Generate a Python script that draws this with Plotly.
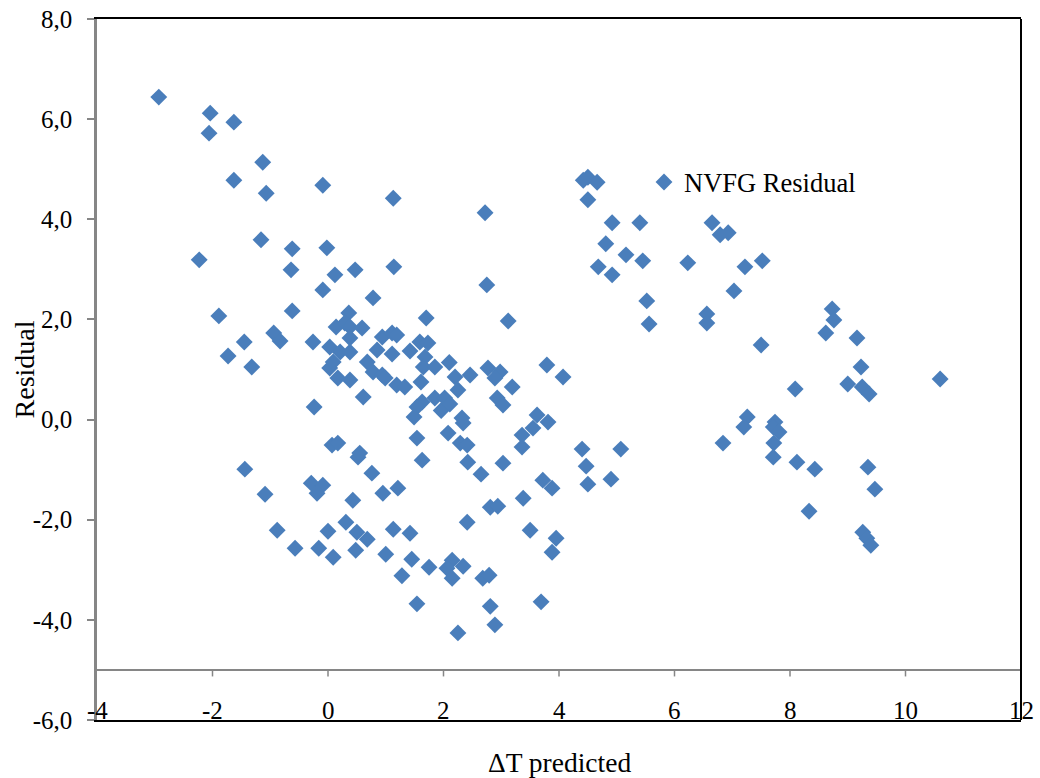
import plotly.graph_objects as go

# Predicted temperature change and the corresponding NVFG residuals
dt_predicted = [
    -2.93, -2.04, -2.06, -1.63, -1.13, -1.63, -1.07, -0.09, 1.13, -2.23,
    -1.16, -0.62, -0.02, -0.64, 0.47, 0.12, 1.14, -0.09, -1.89, -0.62,
    0.78, 0.36, -0.94, -0.83, -1.45, -1.73, -1.32, -0.26, -0.24, -1.44,
    -1.09,
    1.70, 0.14, 0.29, 0.38, 0.59, 0.38, 0.03, 0.21, 0.38, 0.94,
    1.11, 1.19, 0.85, 1.11, 1.42, 1.59, 1.73, 1.68, 1.65, 1.85,
    2.10, 0.03, 0.09, 0.17, 0.38, 0.68, 0.78, 0.94, 0.99, 1.19,
    1.33, 1.61, 0.61, 1.63, 1.54, 1.49, 1.85, 2.02, 1.96, 2.11,
    1.54, 1.63, 2.08, 0.07, 0.17, 0.52, 0.55, 0.76, -0.29, -0.09,
    -0.19, 0.43, 0.95, 1.21, 0.31, -0.88, 0.00, 0.50, 0.68, 1.13,
    1.42, -0.57, -0.16, 0.09, 0.48, 1.00, 1.45, 1.75, 1.28, 1.54,
    2.93, 3.03, 2.34, 2.29, 2.41, 2.42, 2.65, 3.03, 3.62, 3.81,
    3.55, 3.36, 3.36, 4.40, 5.07, 4.47, 4.50, 4.90, 3.72, 3.88,
    3.38, 2.81, 2.94, 2.41, 2.15, 2.06, 2.34, 2.15, 2.68, 2.79,
    3.50, 3.95, 3.88, 2.81, 2.89, 2.25, 3.69,
    2.72, 2.75, 3.12, 4.50, 4.66, 4.42, 4.50, 4.92, 4.81, 4.68,
    4.92, 5.16, 2.20, 2.25, 2.46, 2.77, 2.98, 2.89, 3.19, 3.79,
    4.07, 2.32,
    5.40, 6.65, 6.79, 6.93, 5.45, 6.23, 7.22, 7.52, 7.03, 5.52,
    5.56, 6.56, 6.56, 7.50, 8.09, 6.84, 7.26, 7.20, 7.74, 7.71,
    7.81, 7.72, 7.71, 8.12,
    8.73, 8.76, 8.62, 9.16, 9.23, 10.60, 9.00, 9.25, 9.37, 8.43,
    9.35, 9.47, 8.33, 9.26, 9.33, 9.40,
]
residual = [
    6.44, 6.12, 5.72, 5.94, 5.14, 4.78, 4.52, 4.68, 4.42, 3.19,
    3.59, 3.41, 3.43, 2.99, 2.99, 2.89, 3.05, 2.59, 2.07, 2.17,
    2.43, 2.13, 1.73, 1.57, 1.55, 1.27, 1.05, 1.55, 0.25, -0.99,
    -1.49,
    2.03, 1.85, 1.93, 1.85, 1.83, 1.63, 1.45, 1.35, 1.35, 1.65,
    1.73, 1.69, 1.39, 1.31, 1.37, 1.55, 1.53, 1.25, 1.05, 1.05,
    1.14, 1.03, 1.15, 0.83, 0.79, 1.15, 0.95, 0.89, 0.83, 0.69,
    0.65, 0.75, 0.45, 0.35, 0.25, 0.05, 0.43, 0.43, 0.18, 0.31,
    -0.37, -0.81, -0.27, -0.51, -0.47, -0.75, -0.67, -1.07, -1.27, -1.31,
    -1.47, -1.61, -1.47, -1.37, -2.05, -2.21, -2.23, -2.25, -2.39, -2.19,
    -2.27, -2.57, -2.57, -2.75, -2.61, -2.69, -2.79, -2.95, -3.12, -3.68,
    0.43, 0.29, -0.07, -0.47, -0.51, -0.85, -1.09, -0.87, 0.09, -0.05,
    -0.17, -0.31, -0.55, -0.59, -0.59, -0.93, -1.29, -1.19, -1.21, -1.37,
    -1.57, -1.75, -1.73, -2.05, -2.81, -2.97, -2.93, -3.17, -3.17, -3.11,
    -2.21, -2.37, -2.65, -3.73, -4.10, -4.26, -3.64,
    4.13, 2.69, 1.97, 4.84, 4.74, 4.78, 4.39, 3.93, 3.51, 3.05,
    2.89, 3.29, 0.85, 0.59, 0.89, 1.03, 0.95, 0.83, 0.65, 1.09,
    0.85, 0.03,
    3.93, 3.93, 3.69, 3.73, 3.17, 3.13, 3.05, 3.17, 2.57, 2.37,
    1.91, 2.11, 1.93, 1.49, 0.61, -0.47, 0.05, -0.15, -0.05, -0.15,
    -0.25, -0.47, -0.75, -0.85,
    2.21, 1.99, 1.73, 1.63, 1.05, 0.81, 0.71, 0.65, 0.51, -0.99,
    -0.95, -1.39, -1.83, -2.25, -2.37, -2.51,
]

x_ticks = [-4, -2, 0, 2, 4, 6, 8, 10, 12]
y_ticks = [-6, -4, -2, 0, 2, 4, 6, 8]
x_cross = -5  # level where the horizontal axis line crosses

SERIF = "Liberation Serif, Times New Roman, serif"
GREY = "#868686"

# tick texts with a plain hyphen and a decimal comma
y_ticktext = [f"{v:.1f}".replace(".", ",") for v in y_ticks]
x_ticktext = [str(v) for v in x_ticks]

fig = go.Figure()
fig.add_trace(go.Scatter(
    x=dt_predicted, y=residual, mode="markers", name="NVFG Residual",
    marker=dict(symbol="diamond", size=13, color="#4A7EBB", line=dict(width=0)),
))

# grey horizontal axis line at y = -5 with short downward ticks
fig.add_shape(type="line", xref="x", yref="y", x0=x_ticks[0], x1=x_ticks[-1],
              y0=x_cross, y1=x_cross, line=dict(color=GREY, width=2))
for t in x_ticks[1:]:
    fig.add_shape(type="line", xref="x", yref="y", x0=t, x1=t,
                  y0=x_cross, y1=x_cross - 0.13, line=dict(color=GREY, width=1.5))
# right border
fig.add_shape(type="line", xref="paper", yref="paper", x0=1, x1=1, y0=0, y1=1,
              line=dict(color="black", width=2))

# x tick labels sit on the bottom frame line
annotations = [
    dict(text=lab, xref="x", yref="y", x=t, y=y_ticks[0], xanchor="center",
         yanchor="bottom", yshift=-6, showarrow=False,
         font=dict(family=SERIF, size=25, color="black"))
    for t, lab in zip(x_ticks, x_ticktext)
]
annotations += [
    dict(text="ΔT predicted", xref="paper", yref="paper", x=0.5, y=-0.06,
         xanchor="center", yanchor="middle", showarrow=False,
         font=dict(family=SERIF, size=27.5)),
    dict(text="Residual", xref="paper", yref="paper", x=-0.078, y=0.5,
         xanchor="center", yanchor="middle", textangle=-90, showarrow=False,
         font=dict(family=SERIF, size=28)),
]

fig.update_layout(
    width=1040, height=778,
    margin=dict(l=97, r=19, t=19, b=58, autoexpand=False),
    paper_bgcolor="white", plot_bgcolor="white",
    font=dict(family=SERIF, size=25, color="black"),
    showlegend=True,
    legend=dict(x=0.592, y=0.767, xanchor="left", yanchor="middle",
                bgcolor="rgba(0,0,0,0)", font=dict(family=SERIF, size=26.5),
                itemsizing="trace"),
    xaxis=dict(range=[-4, 12], tickvals=x_ticks, showticklabels=False, ticks="",
               showgrid=False, zeroline=False, showline=True, linecolor="black",
               linewidth=2, mirror=True, automargin=False),
    yaxis=dict(range=[-6, 8], tickvals=y_ticks, ticktext=y_ticktext,
               ticks="outside", ticklen=7, tickwidth=1.5, tickcolor=GREY,
               showgrid=False, zeroline=False, showline=True, linecolor=GREY,
               linewidth=2.5, automargin=False, ticklabelstandoff=10,
               tickfont=dict(family=SERIF, size=25)),
    annotations=annotations,
)

fig.write_html("out.html")
